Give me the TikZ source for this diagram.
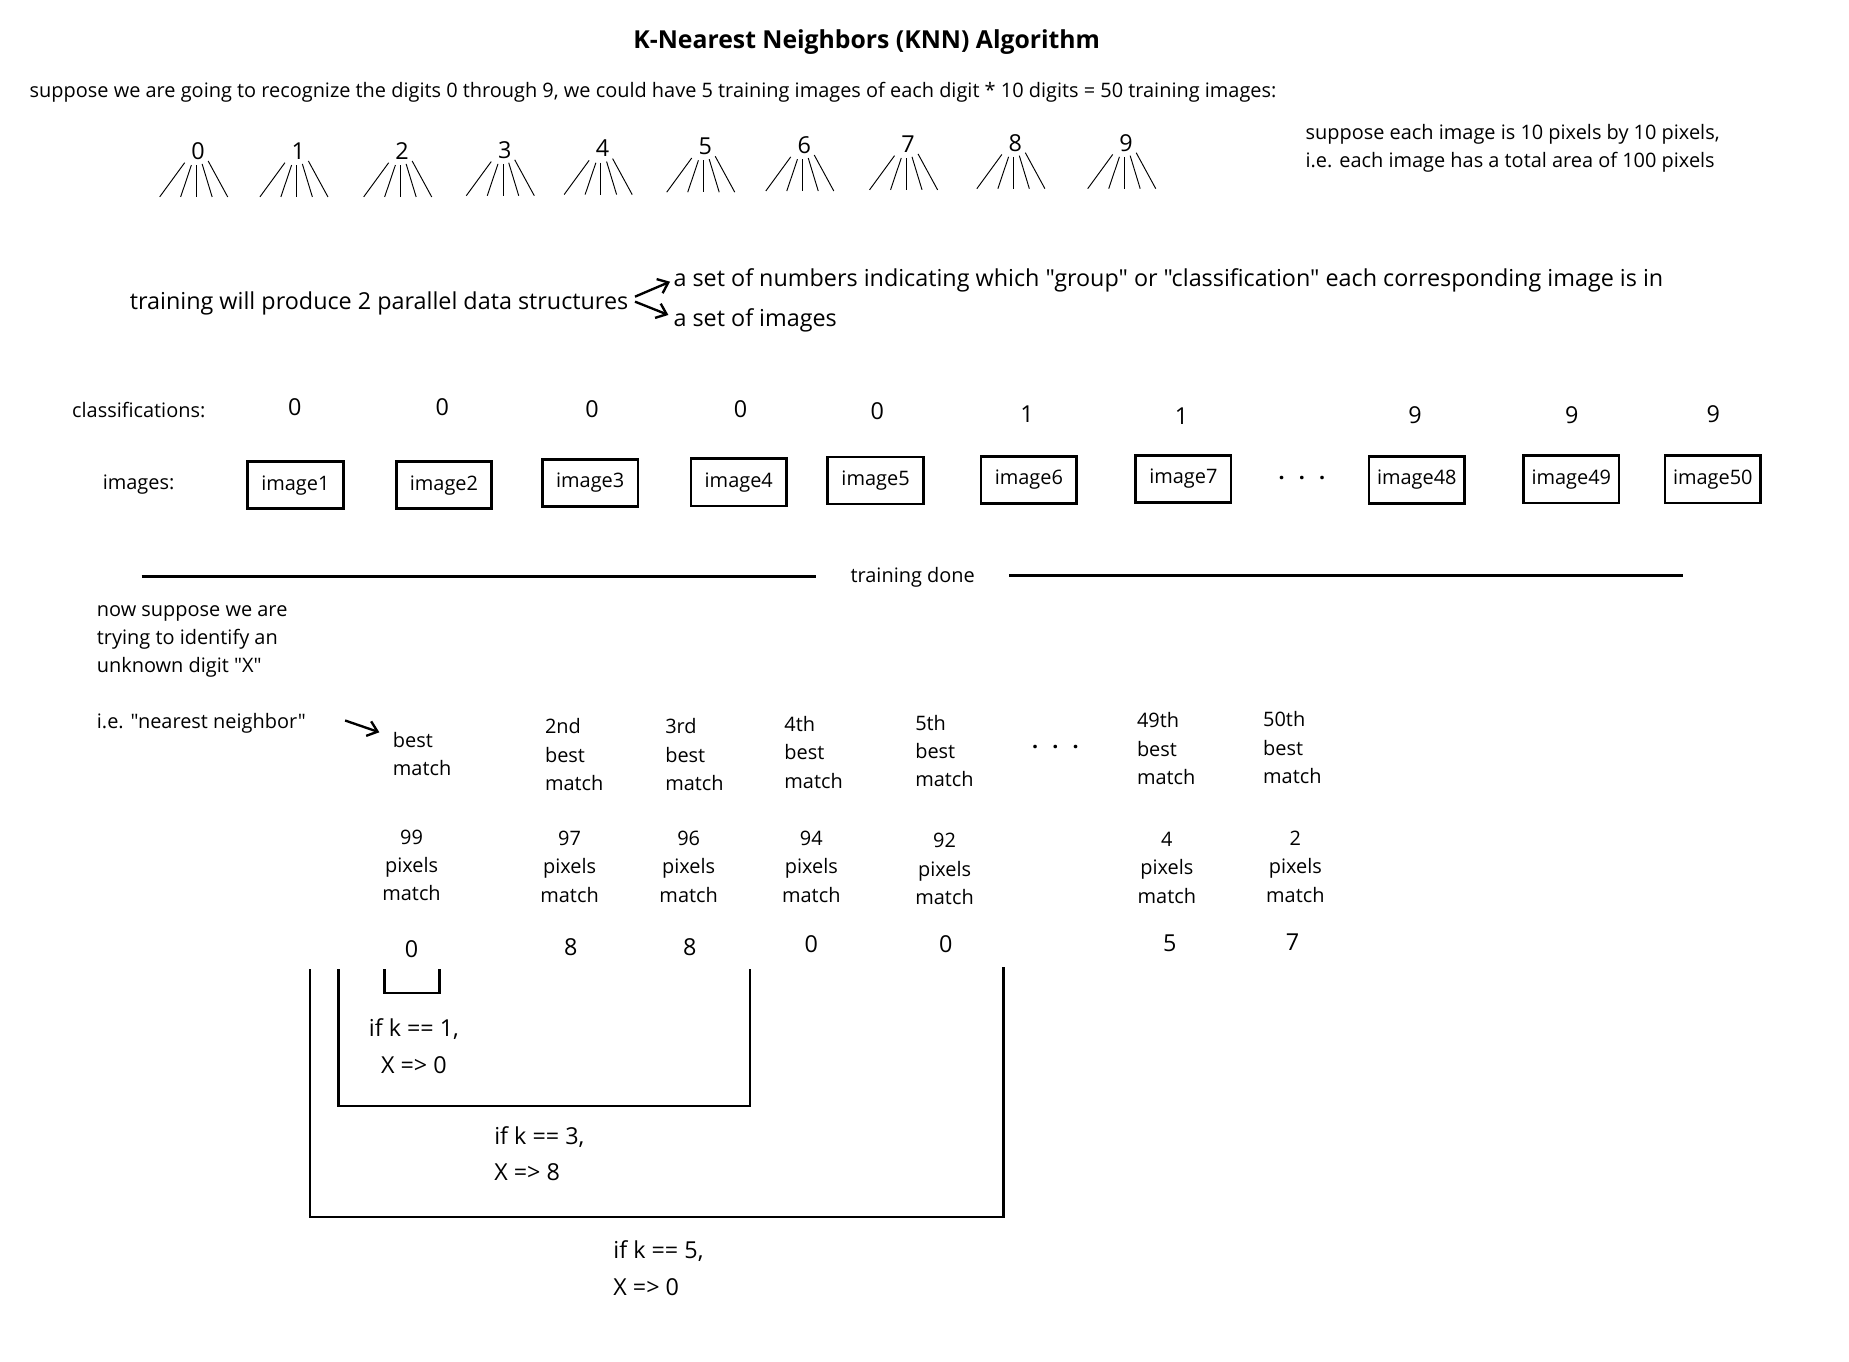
\documentclass[tikz,border=0pt]{standalone}
\usepackage{fontspec}
\setmainfont{Open Sans}[Ligatures=TeXOff]
\usetikzlibrary{arrows.meta}

\tikzset{
	smalltext/.style={font=\fontsize{16.9}{24}\selectfont, inner sep=0pt},
	bigtext/.style={font=\fontsize{19.8}{31}\selectfont, inner sep=0pt},
	titletext/.style={font=\bfseries\fontsize{21}{24}\selectfont, inner sep=0pt},
	imagebox/.style={smalltext, draw, line width=2.3pt, minimum width=81pt, minimum height=40pt},
	barb/.style={line width=2pt, -{Straight Barb[length=8pt, width=13pt]}},
	fanline/.style={line width=0.8pt},
	thickrule/.style={line width=2.3pt},
	dots/.style={font=\bfseries\fontsize{18}{18}\selectfont, inner sep=0pt}
}

\begin{document}
\begin{tikzpicture}[x=1pt, y=-1pt]

	\useasboundingbox (0,0) rectangle (1568,1155);

	%title and the first line
	\node[titletext] (title) at (735,35.5) {K-Nearest Neighbors (KNN) Algorithm};
	\node[smalltext, anchor=west] (intro) at (25,78) {suppose we are going to recognize the digits 0 through 9, we could have 5 training images of each digit * 10 digits = 50 training images:};

	%the ten digits, each with its fan of training images
	\foreach \digit/\xpos/\ypos in {0/168/128, 1/253/128, 2/341/128, 3/428/127, 4/511/126, 5/598/124, 6/682/123, 7/770/122, 8/861/121, 9/955/121}
   {
		\node[bigtext] (d\digit) at (\xpos,\ypos) {\digit};
		\foreach \topx/\topy/\botx in {-11.4/10/-32.6, -5.7/12/-14.8, -1.4/12/-1.4, 3.4/11/11.9, 8.5/8.5/25.1}
			\draw[fanline] ([shift={(\topx,\topy)}]d\digit.center) -- ([shift={(\botx,39)}]d\digit.center);
   }

	\node[smalltext, anchor=west, align=left] (size) at (1107,126) {suppose each image is 10 pixels by 10 pixels,\\i.e. each image has a total area of 100 pixels};

	%training gives two parallel structures
	\node[bigtext, anchor=east] (train) at (533,257.5) {training will produce 2 parallel data structures};
	\node[bigtext, anchor=west] (setnum) at (571,238) {a set of numbers indicating which "group" or "classification" each corresponding image is in};
	\node[bigtext, anchor=west] (setimg) at (571,272) {a set of images};
	\draw[barb] ([shift={(5.5,-5.9)}]train.east) -- ([shift={(-2.8,0.9)}]setnum.west);
	\draw[barb] ([shift={(5.5,-1.7)}]train.east) -- ([shift={(-4.2,-4.9)}]setimg.west);

	%classifications, upper row
	\node[smalltext, anchor=west] (classlabel) at (61,348) {classifications:};
\foreach \cls/\xpos/\ypos [count=\i] in {0/250/345, 0/375/345, 0/502/347, 0/628/347, 0/744/349, 1/871/351, 1/1002/353, 9/1200/352, 9/1333/352, 9/1453/351}
   {
		\node[bigtext] (c\i) at (\xpos,\ypos) {\cls};
   }

	%images, lower row
	\node[smalltext, anchor=west] (imagelabel) at (87,411) {images:};
\foreach \num/\xpos/\ypos in {1/250.5/411.5, 2/376.5/411.5, 3/500.5/409.5, 4/626.5/409, 5/742.5/407.5, 6/872.5/407, 7/1003.5/406, 48/1201.5/407, 49/1332.5/406.5, 50/1452.5/406.5}
   {
		\node[imagebox] (img\num) at (\xpos,\ypos) {image\num};
   }
	\node[dots] (imgdots) at (1104,408) {·\hspace{12pt}·\hspace{12pt}·};

	%training done
	\node[smalltext] (done) at (774,490) {training done};
	\coordinate (doneleft) at (120,489);
	\coordinate (doneleftend) at (692,489);
	\coordinate (donerightstart) at (856,488);
	\coordinate (doneright) at (1427,488);
	\draw[thickrule] (doneleft) -- (doneleftend);
	\draw[thickrule] (donerightstart) -- (doneright);

	%the unknown digit
	\node[smalltext, anchor=west, align=left] (unknown) at (82,544) {now suppose we are\\trying to identify an\\unknown digit "X"};
	\node[smalltext, anchor=west] (nn) at (82,613) {i.e. "nearest neighbor"};

	%matches, best first
	\node[smalltext, anchor=west, align=left] (rank1) at (333,639.5) {best\\match};
\foreach \rank/\xpos/\ypos [count=\i from 2] in {2nd/462/640, 3rd/564/640, 4th/665/638, 5th/776/637, 49th/964/635, 50th/1071/634}
   {
		\node[smalltext, anchor=west, align=left] (rank\i) at (\xpos,\ypos) {\rank\\best\\match};
   }
	\node[dots] (rankdots) at (895,636) {·\hspace{12pt}·\hspace{12pt}·};
	\draw[barb] ([shift={(33,-2)}]nn.east) -- ([shift={(-11.3,-18.5)}]rank1.west);

\foreach \pix/\xpos/\ypos [count=\i] in {99/349/734, 97/483/735, 96/584/735, 94/688/735, 92/801/737, 4/989.5/736, 2/1098.5/735}
   {
		\node[smalltext, align=center] (pix\i) at (\xpos,\ypos) {\pix\\pixels\\match};
   }

\foreach \cls/\xpos/\ypos [count=\i] in {0/349/805, 8/484/803, 8/585/803, 0/688/801, 0/802/801, 5/992/800, 7/1096/799}
   {
		\node[bigtext] (res\i) at (\xpos,\ypos) {\cls};
   }

	%brackets for k = 1, 3, 5
	\draw[thickrule] (326,822) -- (326,842) -- (373,842) -- (373,822);
	\draw[thickrule] (287,822) -- (287,938) -- (636,938) -- (636,822);
	\draw[thickrule] (263,822) -- (263,1032) -- (851,1032) -- (851,820);

	\node[bigtext, align=center] (k1) at (351,887) {if k == 1,\\X => 0};
	\node[bigtext, anchor=west, align=left] (k3) at (419,978.5) {if k == 3,\\X => 8};
	\node[bigtext, anchor=west, align=left] (k5) at (520,1075.5) {if k == 5,\\X => 0};

\end{tikzpicture}
\end{document}
